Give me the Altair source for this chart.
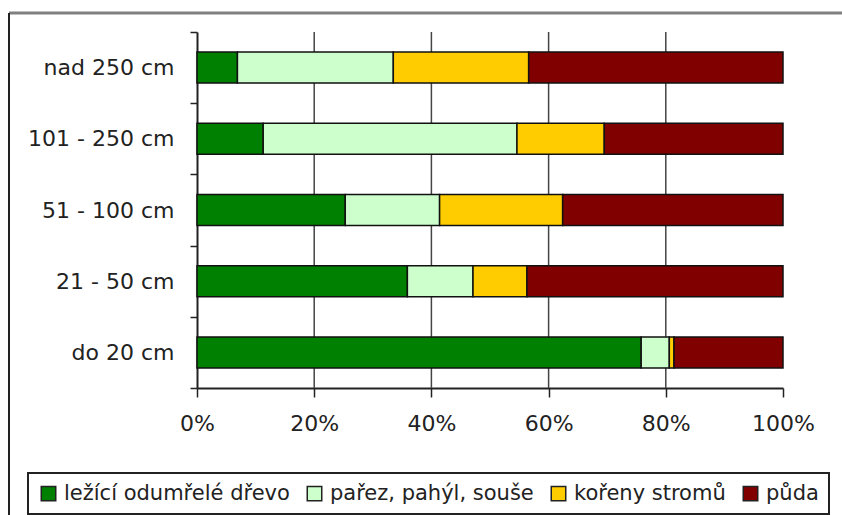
import altair as alt
import pandas as pd

categories = ["nad 250 cm", "101 - 250 cm", "51 - 100 cm", "21 - 50 cm", "do 20 cm"]
series = ["ležící odumřelé dřevo", "pařez, pahýl, souše", "kořeny stromů", "půda"]
lezici = [6.9, 11.3, 25.3, 35.9, 75.8]
parez = [26.6, 43.3, 16.1, 11.2, 4.8]
koreny = [23.1, 14.9, 21.0, 9.2, 0.8]
puda = [43.4, 30.5, 37.6, 43.7, 18.6]
colors = ["#008000", "#CCFFCC", "#FFCC00", "#800000"]
x_ticks = [0, 0.2, 0.4, 0.6, 0.8, 1.0]
grid_at = [0.2, 0.4, 0.6, 0.8]

rows = []
for i, vals in enumerate([lezici, parez, koreny, puda]):
    for c, v in zip(categories, vals):
        rows.append({"kategorie": c, "slozka": series[i], "podil": v, "poradi": i})
df = pd.DataFrame(rows)
grid_df = pd.DataFrame({"g": grid_at})

W, H = 586, 356
FONT = "DejaVu Sans"
TXT = "#222222"

xscale = alt.Scale(domain=[0, 1])

grid = alt.Chart(grid_df).mark_rule(color="#444444", strokeWidth=1.5).encode(
    x=alt.X("g:Q", scale=xscale, title=None),
    y=alt.value(0),
    y2=alt.value(H),
)

bars = alt.Chart(df).mark_bar(stroke="#111111", strokeWidth=1.5, size=31).encode(
    y=alt.Y(
        "kategorie:N",
        sort=categories,
        title=None,
        scale=alt.Scale(paddingInner=0, paddingOuter=0),
        axis=alt.Axis(
            tickBand="extent",
            tickSize=7,
            tickWidth=1.5,
            tickColor=TXT,
            domainColor=TXT,
            domainWidth=2,
            labelFont=FONT,
            labelFontSize=22,
            labelColor=TXT,
            labelPadding=16,
            grid=False,
        ),
    ),
    x=alt.X(
        "podil:Q",
        stack="normalize",
        title=None,
        scale=xscale,
        axis=alt.Axis(
            values=x_ticks,
            format=".0%",
            grid=False,
            labelFlush=False,
            tickSize=9,
            tickWidth=1.5,
            tickColor=TXT,
            domainColor=TXT,
            domainWidth=2,
            labelFont=FONT,
            labelFontSize=22,
            labelColor=TXT,
            labelPadding=16,
        ),
    ),
    color=alt.Color(
        "slozka:N",
        sort=series,
        scale=alt.Scale(domain=series, range=colors),
        legend=alt.Legend(
            title=None,
            orient="none",
            legendX=-169,
            legendY=441,
            direction="horizontal",
            columns=4,
            columnPadding=14,
            padding=10,
            strokeColor=TXT,
            fillColor="white",
            symbolType="square",
            symbolSize=210,
            symbolStrokeColor=TXT,
            symbolStrokeWidth=1.5,
            symbolOpacity=1,
            labelOffset=5,
            labelFont=FONT,
            labelFontSize=21,
            labelColor=TXT,
            labelLimit=400,
        ),
    ),
    order=alt.Order("poradi:Q"),
)

one = pd.DataFrame({"k": [0]})
frame_top = alt.Chart(one).mark_rule(color="#808080", strokeWidth=3).encode(
    x=alt.value(-188), x2=alt.value(645), y=alt.value(-19)
)
frame_left = alt.Chart(one).mark_rule(color=TXT, strokeWidth=2).encode(
    x=alt.value(-188), y=alt.value(-19), y2=alt.value(483)
)

chart = (
    alt.layer(grid, bars, frame_top, frame_left)
    .properties(
        width=W,
        height=H,
        autosize=alt.AutoSizeParams(type="none"),
        padding={"left": 197, "top": 32, "right": 59, "bottom": 127},
        background="white",
    )
    .configure_view(strokeWidth=0)
    .configure_legend(strokeWidth=2)
)

chart.save("out.html", embed_options={"renderer": "svg", "actions": False})
